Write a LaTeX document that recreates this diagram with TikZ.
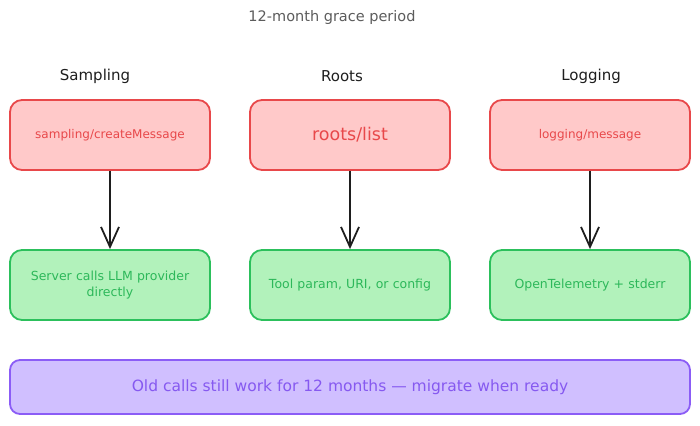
\documentclass[tikz,border=0pt]{standalone}
\usepackage{fontspec}
\setmainfont{DejaVu Sans}
\usetikzlibrary{arrows.meta}
\definecolor{redstroke}{HTML}{E8484A}
\definecolor{redfill}{HTML}{FFC9C9}
\definecolor{greenstroke}{HTML}{2CC05C}
\definecolor{greenfill}{HTML}{B2F2BB}
\definecolor{greentext}{HTML}{2DB85A}
\definecolor{purplestroke}{HTML}{8B5CF6}
\definecolor{purplefill}{HTML}{D0BFFF}
\definecolor{purpletext}{HTML}{8659F0}
\definecolor{inkgray}{HTML}{5C5C5C}
\definecolor{ink}{HTML}{1E1E1E}
\tikzset{
  redbox/.style={draw=redstroke, fill=redfill, line width=1.8pt, rounded corners=12pt,
    minimum width=200pt, minimum height=70pt, text=redstroke, font=\fontsize{12}{14}\selectfont, align=center},
  greenbox/.style={draw=greenstroke, fill=greenfill, line width=1.8pt, rounded corners=12pt,
    minimum width=200pt, minimum height=70pt, text=greentext, font=\fontsize{12.5}{16}\selectfont, align=center, text width=190pt},
  purplebox/.style={draw=purplestroke, fill=purplefill, line width=1.8pt, rounded corners=10pt,
    minimum width=680pt, minimum height=54pt, text=purpletext, font=\fontsize{15.5}{18}\selectfont},
  header/.style={text=ink, font=\fontsize{15}{17}\selectfont},
  flow/.style={draw=ink, line width=1.8pt, -{Straight Barb[length=20pt,width=18pt,line width=1.8pt]}},
}
\begin{document}
\begin{tikzpicture}[x=1pt,y=-1pt]
\useasboundingbox (0,0) rectangle (700,425);
\node[text=inkgray, font=\fontsize{14.5}{16}\selectfont] (title) at (332,18) {12-month grace period};
\node[header] (h1) at (95,76) {Sampling};
\node[header] (h2) at (342,76) {Roots};
\node[header] (h3) at (591,76) {Logging};
\node[redbox] (r1) at (110,135) {sampling/createMessage};
\node[redbox, font=\fontsize{17.5}{19}\selectfont] (r2) at (350,135) {roots/list};
\node[redbox] (r3) at (590,135) {logging/message};
\node[greenbox] (g1) at (110,285) {Server calls LLM provider\\directly};
\node[greenbox] (g2) at (350,285) {Tool param, URI, or config};
\node[greenbox] (g3) at (590,285) {OpenTelemetry + stderr};
\node[purplebox] (p) at (350,387) {Old calls still work for 12 months — migrate when ready};
\draw[flow] (r1) -- (g1);
\draw[flow] (r2) -- (g2);
\draw[flow] (r3) -- (g3);
\end{tikzpicture}
\end{document}
